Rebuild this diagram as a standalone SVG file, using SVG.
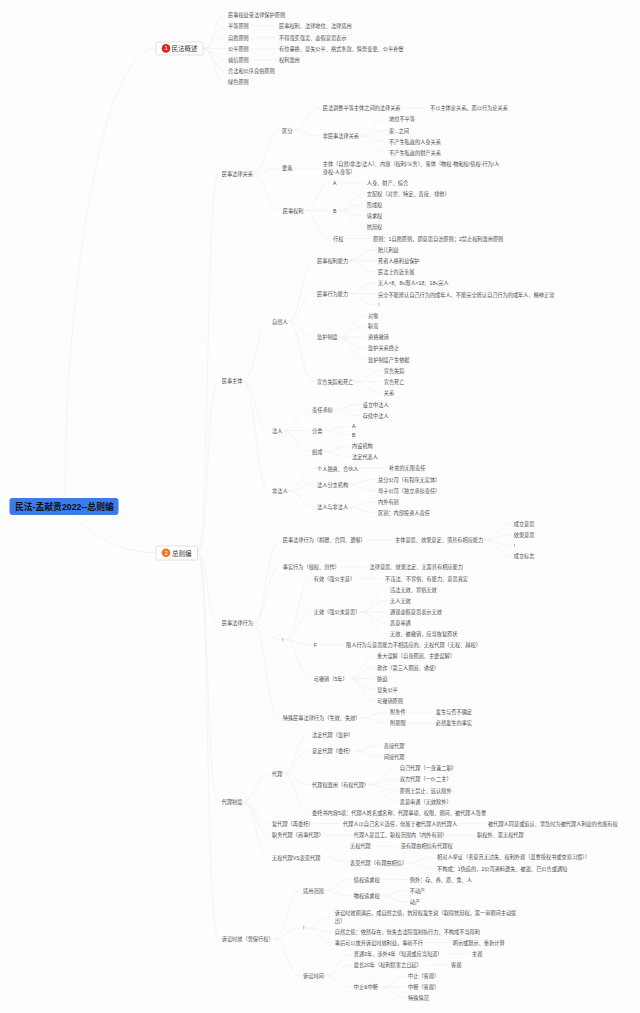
<svg xmlns="http://www.w3.org/2000/svg" width="640" height="1013" viewBox="0 0 640 1013">
<style>
text{font-family:"Liberation Sans","Noto Sans CJK SC",sans-serif;font-size:5.2px;fill:#4c4c4c;dominant-baseline:central}
.c path{fill:none;stroke:#f1f1f1;stroke-width:.8}
.b{fill:#fff;stroke:#d4d4d4;stroke-width:.7}
.t{font-size:6.5px;fill:#333}
.r{font-size:8.8px;font-weight:bold;fill:#111}
</style>
<rect width="640" height="1013" fill="#fdfdfe"/>
<g id="connectors" class="c">
<path d="M65,498C65,300 100,48.5 155.5,48.5M64,507C90,535 120,552.7 155.5,552.7"/>
<path d="M203,48.5C214,48.5 214,15 225,15M203,48.5C214,48.5 214,26 225,26M203,48.5C214,48.5 214,37.5 225,37.5M203,48.5H225M203,48.5C214,48.5 214,60 225,60M203,48.5C214,48.5 214,71 225,71M203,48.5C214,48.5 214,82 225,82"/>
<path d="M251,26H276M251,37.5H276M251,48.7H276M251,60H276"/>
<path d="M197.5,552.7C210,552.7 205,173.5 219,173.5M197.5,552.7C210,552.7 205,381 219,381M197.5,552.7C210,552.7 205,623 219,623M197.5,552.7C210,552.7 205,801.5 219,801.5M197.5,552.7C210,552.7 205,939 219,939"/>
<path d="M253,173.5C266,173.5 266,130.5 279,130.5M253,173.5C266,173.5 266,168 279,168M253,173.5C266,173.5 266,210.5 279,210.5"/>
<path d="M293,130.5C306,130.5 306,108 320,108M293,130.5C306,130.5 306,136 320,136M401,108H427M293,168H320"/>
<path d="M359,136C372,136 372,119 386,119M359,136C372,136 372,130.5 386,130.5M359,136C372,136 372,141.5 386,141.5M359,136C372,136 372,152.5 386,152.5"/>
<path d="M304,210.5C317,210.5 317,182.7 330,182.7M304,210.5H330M304,210.5C317,210.5 317,238.5 330,238.5M339,182.7H364M344,238.5H370"/>
<path d="M339,210.5C351,210.5 351,194 364,194M339,210.5C351,210.5 351,205 364,205M339,210.5C351,210.5 351,216 364,216M339,210.5C351,210.5 351,227 364,227"/>
<path d="M242.5,381C256,381 256,321.5 269,321.5M242.5,381C256,381 256,430.5 269,430.5M242.5,381C256,381 256,490.5 269,490.5"/>
<path d="M288,321.5C301,321.5 301,260.7 314,260.7M288,321.5C301,321.5 301,293.5 314,293.5M288,321.5C301,321.5 301,337.3 314,337.3M288,321.5C301,321.5 301,381.7 314,381.7"/>
<path d="M348,260.7C361,260.7 361,249.5 375,249.5M348,260.7H375M348,260.7C361,260.7 361,272 375,272M348,293.5C361,293.5 361,283 375,283M348,293.5H375M348,293.5C361,293.5 361,305 375,305"/>
<path d="M338,337.3C351,337.3 351,315.7 365,315.7M338,337.3C351,337.3 351,326 365,326M338,337.3H365M338,337.3C351,337.3 351,348.3 365,348.3M338,337.3C351,337.3 351,359.5 365,359.5"/>
<path d="M353.5,381.7C367,381.7 367,370.7 381,370.7M353.5,381.7H381M353.5,381.7C367,381.7 367,393 381,393"/>
<path d="M283,430.5C296,430.5 296,409.5 309,409.5M283,430.5H309M283,430.5C296,430.5 296,451.5 309,451.5"/>
<path d="M333,409.5C346,409.5 346,404.5 360,404.5M333,409.5C346,409.5 346,415.5 360,415.5M322.5,430.5C336,430.5 336,426 349,426M322.5,430.5C336,430.5 336,435 349,435M322.5,451.5C336,451.5 336,446 349,446M322.5,451.5C336,451.5 336,457 349,457"/>
<path d="M288,490.5C301,490.5 301,468.5 314,468.5M288,490.5C301,490.5 301,484.5 314,484.5M288,490.5C301,490.5 301,507 314,507M359,468H386"/>
<path d="M348,484.5C361,484.5 361,479.5 375,479.5M348,484.5C361,484.5 361,490.5 375,490.5M348,507C361,507 361,501.5 375,501.5M348,507C361,507 361,512.5 375,512.5"/>
<path d="M253,623C266,623 266,540 280,540M253,623C266,623 266,567 280,567M253,623C266,623 266,639.5 280,639.5M253,623C266,623 266,717.5 280,717.5"/>
<path d="M366,540H392M340,567H366M483,540C497,540 497,524 511,524M483,540C497,540 497,535 511,535M483,540C497,540 497,545.5 511,545.5M483,540C497,540 497,556 511,556"/>
<path d="M285,639.5C298,639.5 298,578.5 311,578.5M285,639.5C298,639.5 298,612 311,612M285,639.5C298,639.5 298,645 311,645M285,639.5C298,639.5 298,678.5 311,678.5M360.5,578.5H382M318,645H343"/>
<path d="M360.5,612C374,612 374,589.5 387,589.5M360.5,612C374,612 374,600.5 387,600.5M360.5,612H387M360.5,612C374,612 374,623 387,623M360.5,612C374,612 374,634 387,634"/>
<path d="M350,678.5C362,678.5 362,656 374,656M350,678.5C362,678.5 362,667.5 374,667.5M350,678.5H374M350,678.5C362,678.5 362,689.5 374,689.5M350,678.5C362,678.5 362,701 374,701"/>
<path d="M361,717.5C374,717.5 374,712 387,712M361,717.5C374,717.5 374,723 387,723M406,712H433M406,723H433"/>
<path d="M242.5,801.5C256,801.5 256,773.5 269,773.5M242.5,801.5C256,801.5 256,823.5 269,823.5M242.5,801.5C256,801.5 256,835 269,835M242.5,801.5C256,801.5 256,857.5 269,857.5"/>
<path d="M283,773.5C296,773.5 296,734.5 309,734.5M283,773.5C296,773.5 296,751 309,751M283,773.5C296,773.5 296,784.5 309,784.5M283,773.5C296,773.5 296,812.5 309,812.5M354,751C367,751 367,745.5 381,745.5M354,751C367,751 367,756.7 381,756.7"/>
<path d="M369,784.5C383,784.5 383,767.7 397,767.7M369,784.5C383,784.5 383,779 397,779M369,784.5C383,784.5 383,790.5 397,790.5M369,784.5C383,784.5 383,801.5 397,801.5"/>
<path d="M314,823.5H340M457.5,823.5H485M324,835H351M447,835H474M371,846H398"/>
<path d="M327,857.5C337,857.5 337,846 347,846M327,857.5C337,857.5 337,862.5 347,862.5M407,862.5C420,862.5 420,857 434,857M407,862.5C420,862.5 420,868.5 434,868.5"/>
<path d="M274,939C287,939 287,890.5 300,890.5M274,939C287,939 287,928 300,928M274,939C287,939 287,976 300,976"/>
<path d="M324,890.5C337,890.5 337,879.5 351,879.5M324,890.5C337,890.5 337,896 351,896M380,879.5H407M380,896C393,896 393,890.5 407,890.5M380,896C393,896 393,902 407,902"/>
<path d="M306,928C319,928 319,916.5 332,916.5M306,928C319,928 319,931.5 332,931.5M306,928C319,928 319,942.5 332,942.5M423,942.5H450"/>
<path d="M324,976C337,976 337,954 351,954M324,976C337,976 337,965 351,965M324,976C337,976 337,987 351,987M447,954H470M426.5,965H448"/>
<path d="M381,987C393,987 393,976 405,976M381,987H405M381,987C393,987 393,998 405,998"/>
</g>
<g id="root"><rect x="9.5" y="498" width="109" height="17" rx="3" fill="#3b7cea"/><text class="r" x="15" y="507">民法-孟献贵2022--总则编</text></g>
<g id="topic1"><rect class="b" x="156" y="42" width="47" height="13" rx="1.5"/><circle cx="166" cy="48.4" r="4.3" fill="#d9281c"/><text x="164.6" y="48.4" style="font-size:6px;fill:#fff">1</text><text class="t" x="171.5" y="48.6">民法概述</text></g>
<g id="topic2"><rect class="b" x="156" y="546" width="41.5" height="14" rx="1.5"/><circle cx="166" cy="552.8" r="4.3" fill="#e8761a"/><text x="164.6" y="552.8" style="font-size:6px;fill:#fff">2</text><text class="t" x="172" y="553">总则编</text></g>
<g id="n1"><text x="228" y="15">民事权益受法律保护原则</text></g>
<g id="n2"><text x="228" y="26">平等原则</text></g>
<g id="n3"><text x="279" y="26">民事权利、法律地位、法律适用</text></g>
<g id="n4"><text x="228" y="37.5">自愿原则</text></g>
<g id="n5"><text x="279" y="37.5">不得强买强卖、虚假意思表示</text></g>
<g id="n6"><text x="228" y="48.7">公平原则</text></g>
<g id="n7"><text x="279" y="48.7">有位垂换、显失公平、格式条款、情势变更、公平补偿</text></g>
<g id="n8"><text x="228" y="60">诚信原则</text></g>
<g id="n9"><text x="279" y="60">权利滥用</text></g>
<g id="n10"><text x="228" y="71">合法和公序良俗原则</text></g>
<g id="n11"><text x="228" y="82">绿色原则</text></g>
<g id="n12"><text x="322.7" y="108">民法调整平等主体之间的法律关系</text></g>
<g id="n13"><text x="430" y="108">不以主体论关系。而以行为论关系</text></g>
<g id="n14"><text x="282" y="130.5">区分</text></g>
<g id="n15"><text x="322.7" y="136">非民事法律关系</text></g>
<g id="n16"><text x="389" y="119">地位不平等</text></g>
<g id="n17"><text x="389" y="130.5">家...之间</text></g>
<g id="n18"><text x="389" y="141.5">不产生私政的人身关系</text></g>
<g id="n19"><text x="389" y="152.5">不产生私政的财产关系</text></g>
<g id="n20"><text x="282" y="168">要素</text></g>
<g id="n21"><text x="322.7" y="164">主体（自然/非法/法人）、内容（权利/义务）、客体（物权-物和权/债权-行为/人</text><text x="322.7" y="171.5">身权-人身等）</text></g>
<g id="n22"><text x="221.7" y="173.5">民事法律关系</text></g>
<g id="n23"><text x="333" y="182.7">A</text></g>
<g id="n24"><text x="366.7" y="182.7">人身、财产、综合</text></g>
<g id="n25"><text x="366.7" y="194">支配权（对世、特定、直接、排他）</text></g>
<g id="n26"><text x="333" y="210.5">B</text></g>
<g id="n27"><text x="366.7" y="205">形成权</text></g>
<g id="n28"><text x="366.7" y="216">请求权</text></g>
<g id="n29"><text x="366.7" y="227">抗辩权</text></g>
<g id="n30"><text x="282.7" y="210.5">民事权利</text></g>
<g id="n31"><text x="333" y="238.5">行权</text></g>
<g id="n32"><text x="373" y="238.5">原则：1自愿原则，即意思自治原则；2禁止权利滥用原则</text></g>
<g id="n33"><text x="378" y="249.5">胎儿利益</text></g>
<g id="n34"><text x="317" y="260.7">民事权利能力</text></g>
<g id="n35"><text x="378" y="260.7">死者人格利益保护</text></g>
<g id="n36"><text x="378" y="272">民法上的近亲属</text></g>
<g id="n37"><text x="378" y="283">无人&lt;8、8≤限人&lt;18、18≤完人</text></g>
<g id="n38"><text x="317" y="293.5">民事行为能力</text></g>
<g id="n39"><text x="378" y="294.5">完全不能辨认自己行为的成年人、不能完全辨认自己行为的成年人、精神正常</text></g>
<g id="n40"><text x="378" y="305">!</text></g>
<g id="n41"><text x="272" y="321.5">自然人</text></g>
<g id="n42"><text x="368" y="315.7">对象</text></g>
<g id="n43"><text x="368" y="326">职责</text></g>
<g id="n44"><text x="317" y="337.3">监护制度</text></g>
<g id="n45"><text x="368" y="337.3">资格撤销</text></g>
<g id="n46"><text x="368" y="348.3">监护关系终止</text></g>
<g id="n47"><text x="368" y="359.5">监护制度产生依据</text></g>
<g id="n48"><text x="383.7" y="370.7">宣告失踪</text></g>
<g id="n49"><text x="317" y="381.7">宣告失踪和死亡</text></g>
<g id="n50"><text x="383.7" y="381.7">宣告死亡</text></g>
<g id="n51"><text x="383.7" y="393">关系</text></g>
<g id="n52"><text x="221.7" y="381">民事主体</text></g>
<g id="n53"><text x="312" y="409.5">责任承担</text></g>
<g id="n54"><text x="362.7" y="404.5">设立中法人</text></g>
<g id="n55"><text x="362.7" y="415.5">存续中法人</text></g>
<g id="n56"><text x="272" y="430.5">法人</text></g>
<g id="n57"><text x="312" y="430.5">分类</text></g>
<g id="n58"><text x="352" y="426">A</text></g>
<g id="n59"><text x="352" y="435">B</text></g>
<g id="n60"><text x="312" y="451.5">组成</text></g>
<g id="n61"><text x="352" y="446">内设机构</text></g>
<g id="n62"><text x="352" y="457">法定代表人</text></g>
<g id="n63"><text x="317" y="468.5">个人独资、合伙人</text></g>
<g id="n64"><text x="389" y="468">补充的无限责任</text></g>
<g id="n65"><text x="317" y="484.5">法人分支机构</text></g>
<g id="n66"><text x="378" y="479.5">总分公司（有程序无实体）</text></g>
<g id="n67"><text x="378" y="490.5">母子公司（独立承担责任）</text></g>
<g id="n68"><text x="272" y="490.5">非法人</text></g>
<g id="n69"><text x="317" y="507">法人与非法人</text></g>
<g id="n70"><text x="378" y="501.5">内外有别</text></g>
<g id="n71"><text x="378" y="512.5">区别：内部投资人责任</text></g>
<g id="n72"><text x="282.7" y="540">民事法律行为（捐赠、合同、遗嘱）</text></g>
<g id="n73"><text x="395" y="540">主体意思、效果意定、须具有相应能力</text></g>
<g id="n74"><text x="513.7" y="524">成立意思</text></g>
<g id="n75"><text x="513.7" y="535">效果意思</text></g>
<g id="n76"><text x="513.7" y="545.5">!</text></g>
<g id="n77"><text x="513.7" y="556">成立标志</text></g>
<g id="n78"><text x="282.7" y="567">事实行为（侵权、创作）</text></g>
<g id="n79"><text x="369.5" y="567">法律意思、效果法定、无需具有相应能力</text></g>
<g id="n80"><text x="313.7" y="578.5">有效（强公主意）</text></g>
<g id="n81"><text x="385" y="578.5">不违法、不背俗、有能力、意思真实</text></g>
<g id="n82"><text x="390" y="589.5">违法无效、背俗无效</text></g>
<g id="n83"><text x="390" y="600.5">无人无效</text></g>
<g id="n84"><text x="313.7" y="612">无效（强公未意思）</text></g>
<g id="n85"><text x="390" y="612">通谋虚假意思表示无效</text></g>
<g id="n86"><text x="390" y="623">恶意串通</text></g>
<g id="n87"><text x="221.7" y="623">民事法律行为</text></g>
<g id="n88"><text x="390" y="634">无效、被撤销，应当恢复原状</text></g>
<g id="n89"><text x="282" y="639.5">!</text></g>
<g id="n90"><text x="313.7" y="645">F</text></g>
<g id="n91"><text x="346" y="645">限人行为与意思能力不相适应的、无权代理（无权、越权）</text></g>
<g id="n92"><text x="377" y="656">重大误解（自身原因、主要误解）</text></g>
<g id="n93"><text x="377" y="667.5">欺诈（第三人原因、诱使）</text></g>
<g id="n94"><text x="377" y="678.5">胁迫</text></g>
<g id="n95"><text x="313.7" y="678.5">可撤销（5年）</text></g>
<g id="n96"><text x="377" y="689.5">显失公平</text></g>
<g id="n97"><text x="377" y="701">可撤销原则</text></g>
<g id="n98"><text x="390" y="712">附条件</text></g>
<g id="n99"><text x="435.7" y="712">发生与否不确定</text></g>
<g id="n100"><text x="282.7" y="717.5">特殊民事法律行为（生效、失效）</text></g>
<g id="n101"><text x="390" y="723">附期限</text></g>
<g id="n102"><text x="435.7" y="723">必然发生的事实</text></g>
<g id="n103"><text x="312" y="734.5">法定代理（监护）</text></g>
<g id="n104"><text x="312" y="751">意定代理（委托）</text></g>
<g id="n105"><text x="383.7" y="745.5">直接代理</text></g>
<g id="n106"><text x="383.7" y="756.7">间接代理</text></g>
<g id="n107"><text x="272" y="773.5">代理</text></g>
<g id="n108"><text x="399.7" y="767.7">自己代理（一身兼二职）</text></g>
<g id="n109"><text x="399.7" y="779">双方代理（一仆二主）</text></g>
<g id="n110"><text x="312" y="784.5">代理权滥用（有权代理）</text></g>
<g id="n111"><text x="399.7" y="790.5">原则上禁止、追认除外</text></g>
<g id="n112"><text x="399.7" y="801.5">恶意串通（无效除外）</text></g>
<g id="n113"><text x="221.7" y="801.5">代理制度</text></g>
<g id="n114"><text x="312" y="812.5">委托书内容5项：代理人姓名或名称、代理事项、权限、期间、被代理人签章</text></g>
<g id="n115"><text x="272" y="823.5">复代理（再委托）</text></g>
<g id="n116"><text x="343" y="823.5">代理人以自己名义选任，但属于被代理人的代理人</text></g>
<g id="n117"><text x="488" y="823.5">被代理人同意或追认、紧急时为被代理人利益的也属有权</text></g>
<g id="n118"><text x="272" y="835">职务代理（商事代理）</text></g>
<g id="n119"><text x="353.7" y="835">代理人是员工，职权范围内（内外有别）</text></g>
<g id="n120"><text x="477" y="835">职权外、需无权代理</text></g>
<g id="n121"><text x="350" y="846">无权代理</text></g>
<g id="n122"><text x="400.7" y="846">没有理由相信有代理权</text></g>
<g id="n123"><text x="272" y="857.5">无权代理VS表见代理</text></g>
<g id="n124"><text x="350" y="862.5">表见代理（有理由相信）</text></g>
<g id="n125"><text x="437" y="857">相对人举证（善意且无过失、权利外观（盖章授权书或交易习惯））</text></g>
<g id="n126"><text x="437" y="868.5">不构成：1伪造的，2公司资料遗失、被盗、已公告或通知</text></g>
<g id="n127"><text x="353.7" y="879.5">债权请求权</text></g>
<g id="n128"><text x="409.7" y="879.5">例外：存、券、质、鲁、人</text></g>
<g id="n129"><text x="303" y="890.5">适用范围</text></g>
<g id="n130"><text x="409.7" y="890.5">不动产</text></g>
<g id="n131"><text x="353.7" y="896">物权请求权</text></g>
<g id="n132"><text x="409.7" y="902">动产</text></g>
<g id="n133"><text x="334.7" y="913">诉讼时效期满后，成自然之债，抗辩权发生说（取得抗辩权，需一审期间主动提</text><text x="334.7" y="920.5">出）</text></g>
<g id="n134"><text x="303" y="928">!</text></g>
<g id="n135"><text x="334.7" y="931.5">自然之债：依然存在、但失去法院强制执行力、不构成不当得利</text></g>
<g id="n136"><text x="334.7" y="942.5">事后可以放弃诉讼时效利益，事前不行</text></g>
<g id="n137"><text x="452.7" y="942.5">明示或默示、重新计算</text></g>
<g id="n138"><text x="221.7" y="939">诉讼时效（曾保行权）</text></g>
<g id="n139"><text x="353.7" y="954">普通3年、涉外4年（知道或应当知道）</text></g>
<g id="n140"><text x="472" y="954">主观</text></g>
<g id="n141"><text x="353.7" y="965">最长20年（权利损害之日起）</text></g>
<g id="n142"><text x="451" y="965">客观</text></g>
<g id="n143"><text x="303" y="976">诉讼时间</text></g>
<g id="n144"><text x="408" y="976">中止（客观）</text></g>
<g id="n145"><text x="353.7" y="987">中止&amp;中断</text></g>
<g id="n146"><text x="408" y="987">中断（客观）</text></g>
<g id="n147"><text x="408" y="998">特殊情况</text></g>
</svg>
